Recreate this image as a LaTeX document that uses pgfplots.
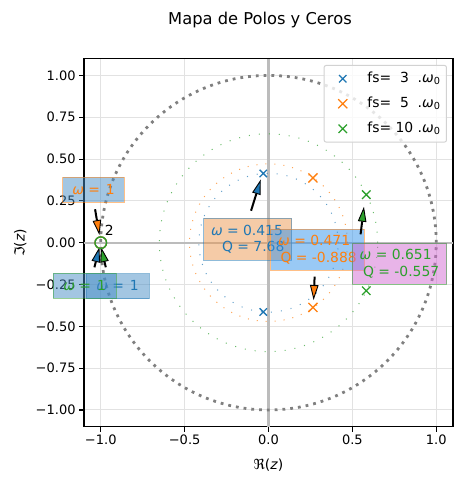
\documentclass[border=0pt]{standalone}
\usepackage{fontspec}
\setmainfont{DejaVu Sans}
\usepackage{pgfplots}
\pgfplotsset{compat=1.18}
\usetikzlibrary{arrows.meta}

\definecolor{cA}{HTML}{1F77B4}
\definecolor{cB}{HTML}{FF7F0E}
\definecolor{cC}{HTML}{2CA02C}
\definecolor{peach}{RGB}{235,151,79}
\definecolor{skyb}{RGB}{51,147,235}
\definecolor{mauve}{RGB}{209,105,209}
\definecolor{steel}{RGB}{71,141,197}
\definecolor{gridc}{RGB}{226,226,226}
\definecolor{zeroline}{RGB}{188,188,188}
\definecolor{legedge}{RGB}{210,210,210}

% legend label: sampling frequency as a multiple of w0
\newcommand{\fs}[1]{fs=\ \makebox[17.7pt][c]{#1}\ .\textit{ω}\textsubscript{0}}

\tikzset{
  annbox/.style={inner xsep=7.3pt, inner ysep=0pt, fill opacity=0.5, draw opacity=0.5,
    text opacity=1, line width=1pt, align=left, anchor=center,
    font=\fontsize{13.9}{16.7}\selectfont},
  zbox/.style={inner sep=0pt, fill=steel, fill opacity=0.5, draw opacity=0.5,
    text opacity=1, line width=1pt, anchor=center, minimum height=25pt,
    font=\fontsize{13.9}{16.7}\selectfont},
  ann/.style={black, line width=2pt,
    -{Triangle[length=15pt,width=8.5pt,line width=0.9pt,fill=#1]}},
}

\begin{document}
\begin{tikzpicture}
\useasboundingbox (0pt,0pt) rectangle (463pt,482pt);
\node[font=\fontsize{16.3}{19}\selectfont, anchor=base] at (260pt,457.7pt) {Mapa de Polos y Ceros};
\begin{axis}[
  at={(84pt,55.3pt)}, anchor=south west,
  scale only axis, width=369pt, height=368pt,
  xmin=-1.1, xmax=1.1, ymin=-1.1, ymax=1.1,
  clip=false,
  axis line style={line width=1.1pt, black},
  every tick/.style={black, line width=1.1pt},
  major tick length=4.9pt,
  tick align=outside, tick pos=left,
  xtick={-1,-0.5,0,0.5,1},
  xticklabels={−1.0,−0.5,0.0,0.5,1.0},
  ytick={-1,-0.75,-0.5,-0.25,0,0.25,0.5,0.75,1},
  yticklabels={−1.00,−0.75,−0.50,−0.25,0.00,0.25,0.50,0.75,1.00},
  tick label style={font=\fontsize{13}{15}\selectfont},
  grid=major, major grid style={gridc, line width=1pt},
  xlabel={ℜ(\textit{z})}, ylabel={ℑ(\textit{z})},
  label style={font=\fontsize{13.9}{16}\selectfont},
  xlabel style={at={(axis description cs:0.5,-0.104)}, anchor=center},
  ylabel style={at={(axis description cs:-0.173,0.5)}, anchor=center},
  legend style={at={(axis description cs:0.9837,0.983)}, anchor=north east,
    draw=legedge, line width=1pt, rounded corners=2pt, fill=white, fill opacity=0.8,
    text opacity=1, font=\fontsize{13.9}{16}\selectfont,
    inner xsep=4pt, inner ysep=4.8pt, row sep=8pt,
    nodes={inner sep=2pt, text height=10pt, text depth=3pt},
    cells={anchor=west}},
  legend image code/.code={\draw[#1] plot coordinates {(14pt,0pt)}; \path (0pt,0pt) (36pt,0pt);},
]
% real and imaginary axes
\addplot[zeroline, line width=2.2pt, forget plot] coordinates {(-1.1,0) (1.1,0)};
\addplot[zeroline, line width=2.2pt, forget plot] coordinates {(0,-1.1) (0,1.1)};

% unit circle and the circles |z| = w for each sampling rate
\draw[gray, line width=2.8pt, dash pattern=on 2.8pt off 5pt] (axis cs:0,0) circle[radius=1];
\draw[cA, line width=1pt, dash pattern=on 1pt off 9pt, opacity=0.7] (axis cs:0,0) circle[radius=0.415];
\draw[cB, line width=1pt, dash pattern=on 1pt off 8pt, opacity=0.7] (axis cs:0,0) circle[radius=0.471];
\draw[cC, line width=1pt, dash pattern=on 1pt off 9pt, opacity=0.7] (axis cs:0,0) circle[radius=0.651];

% poles
\addplot[only marks, mark=x, cA, mark size=5.2pt, line width=1.3pt]
  coordinates {(-0.031,0.414) (-0.031,-0.414)};
\addlegendentry{\fs{3}}
\addplot[only marks, mark=x, cB, mark size=6.4pt, line width=1.3pt]
  coordinates {(0.265,0.387) (0.265,-0.387)};
\addlegendentry{\fs{5}}
\addplot[only marks, mark=x, cC, mark size=6pt, line width=1.3pt]
  coordinates {(0.583,0.287) (0.583,-0.287)};
\addlegendentry{\fs{10}}

% double zero at z = -1
\addplot[only marks, mark=o, cA, mark size=5.8pt, line width=1.3pt, forget plot] coordinates {(-1,0)};
\addplot[only marks, mark=o, cB, mark size=5.8pt, line width=1.3pt, forget plot] coordinates {(-1,0)};
\addplot[only marks, mark=o, cC, mark size=5.8pt, line width=1.3pt, forget plot] coordinates {(-1,0)};

% annotations, fs = 3
\draw[ann=cA] (axis cs:-0.104,0.191) -- (axis cs:-0.046,0.378);
\node[annbox, fill=peach, draw=cA, text=cA, minimum height=41.7pt]
  at (axis cs:-0.124,0.021) {\textit{ω} = 0.415\\\hspace*{11pt}Q = 7.68};
\draw[ann=cA] (axis cs:-1.038,-0.147) -- (axis cs:-1.008,-0.027);
\node[zbox, draw=cA, text=cA, minimum width=63pt] at (axis cs:-0.9,-0.259) {\textit{ω} =\hspace{6pt}1};

% annotations, fs = 5
\draw[ann=cB] (axis cs:0.275,-0.203) -- (axis cs:0.269,-0.343);
\node[annbox, fill=skyb, draw=cB, text=cB, minimum height=41pt]
  at (axis cs:0.292,-0.041) {\textit{ω} = 0.471\\\hspace*{2.3pt}Q = -0.888};
\draw[ann=cB] (axis cs:-1.034,0.2) -- (axis cs:-1.008,0.046);
\node[zbox, draw=cB, text=cB, minimum width=61.6pt] at (axis cs:-1.043,0.316) {\textit{ω} =\hspace{6pt}1};

% annotations, fs = 10
\draw[ann=cC] (axis cs:0.549,0.050) -- (axis cs:0.569,0.215);
\node[annbox, fill=mauve, draw=cC, text=cC, minimum height=41pt]
  at (axis cs:0.781,-0.126) {\textit{ω} = 0.651\\\hspace*{3.3pt}Q = -0.557};
\draw[ann=cC] (axis cs:-0.970,-0.147) -- (axis cs:-0.998,-0.027);
\node[zbox, draw=cC, text=cC, minimum width=63pt] at (axis cs:-1.096,-0.257) {\textit{ω} =\hspace{6pt}1};

% multiplicity of the zero
\node[font=\fontsize{13.9}{16}\selectfont, black] at (axis cs:-0.949,0.072) {2};
\end{axis}
\end{tikzpicture}
\end{document}
